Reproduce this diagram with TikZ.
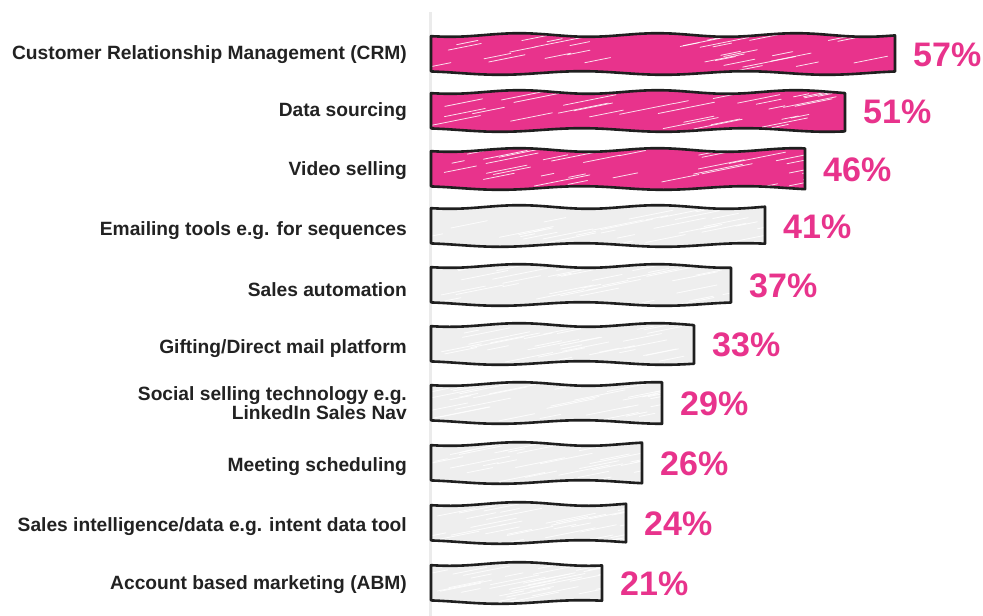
\documentclass[tikz,border=0pt]{standalone}
\usepackage{fontspec}
\setmainfont{Liberation Sans}
\definecolor{pinkbar}{HTML}{E8338C}
\definecolor{greybar}{HTML}{EEEEEE}
\definecolor{txt}{HTML}{222222}
\definecolor{axisgrey}{HTML}{EBEBEB}
\tikzset{
  lbl/.style={anchor=east, font=\bfseries\fontsize{19.2}{19.5}\selectfont, text=txt, align=right, inner sep=0pt},
  pct/.style={anchor=west, font=\bfseries\fontsize{34}{36}\selectfont, text=pinkbar, inner sep=0pt},
  barline/.style={draw=black!88, line width=2.6pt, line join=round, line cap=round},
}
\newcommand{\barpath}[2]{plot[domain=431:#2, samples=30, smooth] (\x, {#1 + 1.8*sin(2.6*\x)}) -- plot[domain=#2:431, samples=30, smooth] (\x, {#1 + 38 + 1.8*sin(2.2*\x+70)}) -- cycle}
\newcommand{\sketchbar}[6]{%
  \begin{scope}
    \fill[#4] \barpath{#2}{#3};
    \begin{scope}
      \clip \barpath{#2}{#3};
      \pgfmathsetseed{#6}
      \foreach \i in {1,...,32} {
        \pgfmathsetmacro\sx{425+rnd*(#3-425)}
        \pgfmathsetmacro\sy{#2+4+rnd*34}
        \pgfmathsetmacro\sl{12+rnd*45}
        \draw[white, line width=0.8pt, opacity=0.85, line cap=round] (\sx,\sy) -- ++(\sl,-0.2*\sl);
      }
    \end{scope}
    \draw[barline] \barpath{#2}{#3};
  \end{scope}
  \node[pct] (#1p) at (#3+18, #2+20) {#5\%};
}
\begin{document}
\begin{tikzpicture}[x=1pt,y=-1pt]
\useasboundingbox (0,0) rectangle (983,616);
\fill[white] (0,0) rectangle (983,616);
\draw[axisgrey, line width=3pt] (430,12) -- (430,616);

\sketchbar{a}{35}{895}{pinkbar}{57}{11}
\sketchbar{b}{92}{845}{pinkbar}{51}{12}
\sketchbar{c}{150}{805}{pinkbar}{46}{13}
\sketchbar{d}{207}{765}{greybar}{41}{14}
\sketchbar{e}{266}{731}{greybar}{37}{15}
\sketchbar{f}{325}{694}{greybar}{33}{16}
\sketchbar{g}{384}{662}{greybar}{29}{17}
\sketchbar{h}{444}{642}{greybar}{26}{18}
\sketchbar{i}{504}{626}{greybar}{24}{19}
\sketchbar{j}{564}{602}{greybar}{21}{20}

\node[lbl] (la) at (407,55) {Customer Relationship Management (CRM)};
\node[lbl] (lb) at (407,112) {Data sourcing};
\node[lbl] (lc) at (407,171) {Video selling};
\node[lbl] (ld) at (407,231) {Emailing tools e.g. for sequences};
\node[lbl] (le) at (407,290) {Sales automation};
\node[lbl] (lf) at (407,349) {Gifting/Direct mail platform};
\node[lbl] (lg) at (407,403) {Social selling technology e.g.\\LinkedIn Sales Nav};
\node[lbl] (lh) at (407,467) {Meeting scheduling};
\node[lbl] (li) at (407,527) {Sales intelligence/data e.g. intent data tool};
\node[lbl] (lj) at (407,585) {Account based marketing (ABM)};
\end{tikzpicture}
\end{document}
